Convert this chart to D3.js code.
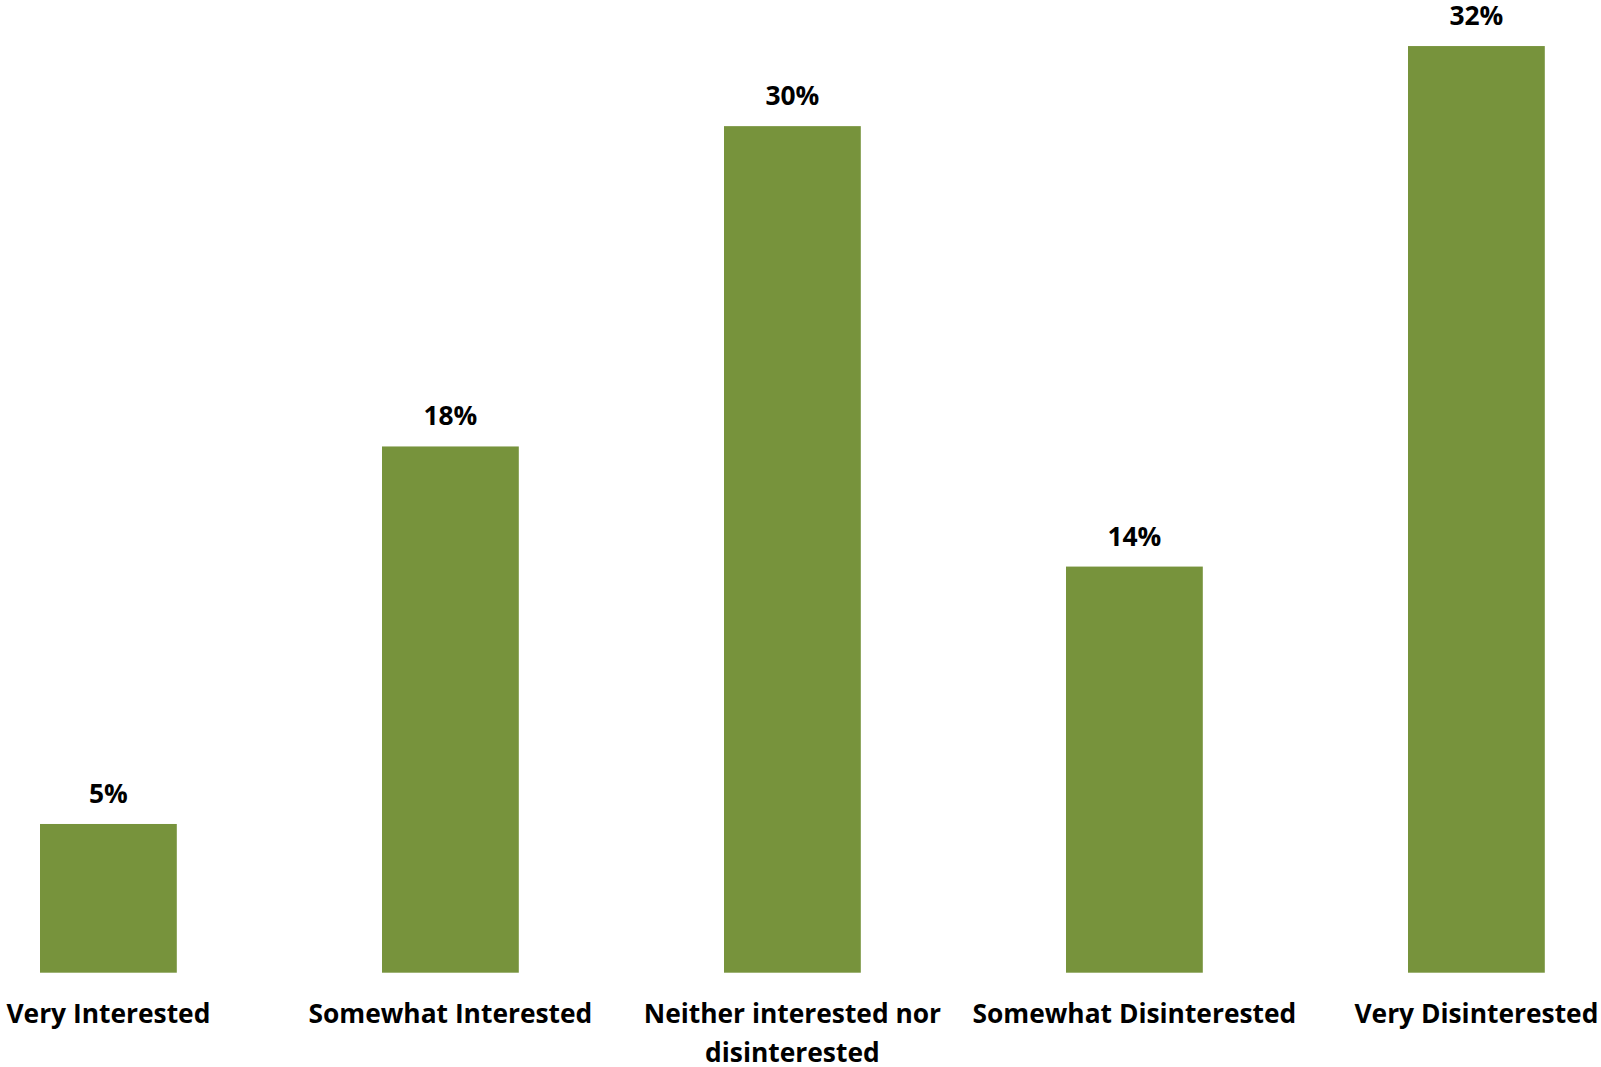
<!DOCTYPE html>
<html>
<head>
<meta charset="utf-8">
<script src="https://cdn.jsdelivr.net/npm/d3@7/dist/d3.min.js"></script>
<style>
  html, body { margin: 0; padding: 0; background: #fff; }
  svg { display: block; }
  text { font-family: "Open Sans", Lato, sans-serif; font-weight: bold; fill: #000; }
</style>
</head>
<body>
<svg id="chart" width="1601" height="1067"></svg>
<script>
const categories = [
  ["Very Interested"],
  ["Somewhat Interested"],
  ["Neither interested nor", "disinterested"],
  ["Somewhat Disinterested"],
  ["Very Disinterested"]
];
const values = [5.2, 18.4, 29.6, 14.2, 32.4];
const valueLabels = ["5%", "18%", "30%", "14%", "32%"];

const svg = d3.select("#chart");
const baseY = 972.7;

// fit font size so that the first category label matches the reference width
const probe = svg.append("text").attr("font-size", 100).text(categories[0][0]);
const probeW = probe.node().getComputedTextLength();
probe.remove();
const fs = Math.min(27, 100 * 204 / probeW);

const x = d3.scaleBand()
  .domain(d3.range(categories.length))
  .range([-62.6, 1647.4])
  .paddingInner(0.6)
  .paddingOuter(0.3);

const y = d3.scaleLinear()
  .domain([0, 35])
  .range([baseY, baseY - 28.6 * 35]);

svg.append("g").selectAll("rect")
  .data(values)
  .join("rect")
  .attr("x", (d, i) => x(i))
  .attr("width", x.bandwidth())
  .attr("y", d => y(d))
  .attr("height", d => y(0) - y(d))
  .attr("fill", "#77933C");

svg.append("g").selectAll("text")
  .data(values)
  .join("text")
  .attr("x", (d, i) => x(i) + x.bandwidth() / 2)
  .attr("y", d => y(d) - 21)
  .attr("text-anchor", "middle")
  .attr("font-size", fs)
  .text((d, i) => valueLabels[i]);

const xAxis = svg.append("g").attr("transform", `translate(0,${baseY})`);
xAxis.selectAll("text")
  .data(categories)
  .join("text")
  .attr("text-anchor", "middle")
  .attr("font-size", fs)
  .attr("transform", (d, i) => `translate(${x(i) + x.bandwidth() / 2},0)`)
  .each(function(lines) {
    const t = d3.select(this);
    lines.forEach((ln, j) => {
      t.append("tspan").attr("x", 0).attr("y", 50.6 + j * 38.4).text(ln);
    });
  });
</script>
</body>
</html>
